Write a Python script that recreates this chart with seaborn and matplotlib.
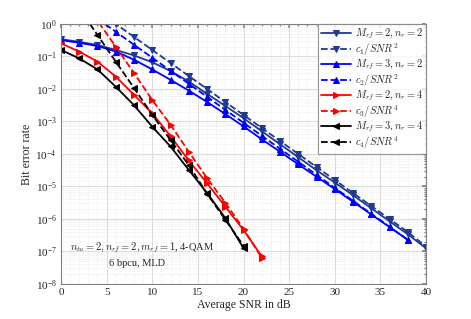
import numpy as np
import pandas as pd
import matplotlib
matplotlib.use("Agg")
import matplotlib.pyplot as plt
import seaborn as sns
from matplotlib.ticker import LogLocator, NullFormatter, MultipleLocator

snr_a = [0, 2, 4, 6, 8, 10, 12, 14, 16, 18, 20, 22, 24, 26, 28, 30, 32, 34, 36, 38, 40]
log_m2n2 = [-0.47, -0.55, -0.65, -0.8, -0.97, -1.18, -1.45, -1.77, -2.15, -2.52, -2.9,
            -3.3, -3.7, -4.1, -4.5, -4.88, -5.27, -5.67, -6.07, -6.47, -6.9]
snr_c1 = [4, 6, 8, 10, 12, 14, 16, 18, 20, 22, 24, 26, 28, 30, 32, 34, 36, 38, 40]
log_c1 = [0.4, 0.0, -0.4, -0.8, -1.2, -1.6, -2.0, -2.4, -2.8, -3.2, -3.6, -4.0, -4.4,
          -4.8, -5.2, -5.6, -6.0, -6.4, -6.85]
snr_b = [0, 2, 4, 6, 8, 10, 12, 14, 16, 18, 20, 22, 24, 26, 28, 30, 32, 34, 36, 38]
log_m3n2 = [-0.5, -0.58, -0.68, -0.85, -1.1, -1.4, -1.72, -2.05, -2.4, -2.77, -3.15,
            -3.55, -3.93, -4.32, -4.7, -5.08, -5.47, -5.86, -6.25, -6.64]
snr_c2 = [4, 6, 8, 10, 12, 14, 16, 18, 20, 22, 24, 26, 28, 30, 32, 34, 36, 38]
log_c2 = [0.16, -0.24, -0.64, -1.04, -1.44, -1.84, -2.24, -2.64, -3.04, -3.44, -3.84,
          -4.24, -4.64, -5.04, -5.44, -5.84, -6.24, -6.64]
snr_r = [0, 2, 4, 6, 8, 10, 12, 14, 16, 18, 20, 22]
log_m2n4 = [-0.6, -0.85, -1.16, -1.62, -2.18, -2.75, -3.45, -4.2, -4.9, -5.62, -6.34, -7.15]
snr_c3 = [2, 4, 6, 8, 10, 12, 14, 16, 18, 20, 22]
log_c3 = [0.9, 0.1, -0.7, -1.51, -2.34, -3.1, -3.93, -4.74, -5.5, -6.3, -7.2]
snr_k = [0, 2, 4, 6, 8, 10, 12, 14, 16, 18, 20]
log_m3n4 = [-0.8, -1.06, -1.4, -1.93, -2.5, -3.16, -3.77, -4.49, -5.2, -5.97, -6.9]
snr_c4 = [2, 4, 6, 8, 10, 12, 14, 16, 18, 20]
log_c4 = [0.48, -0.34, -1.16, -1.97, -2.8, -3.57, -4.34, -5.22, -6.02, -6.82]

labels = [r"$M_{rf}=2, n_r=2$", r"$c_1/SNR^2$", r"$M_{rf}=3, n_r=2$", r"$c_2/SNR^2$",
          r"$M_{rf}=2, n_r=4$", r"$c_3/SNR^4$", r"$M_{rf}=3, n_r=4$", r"$c_4/SNR^4$"]
series = [(snr_a, log_m2n2), (snr_c1, log_c1), (snr_b, log_m3n2), (snr_c2, log_c2),
          (snr_r, log_m2n4), (snr_c3, log_c3), (snr_k, log_m3n4), (snr_c4, log_c4)]
colors = ["#1f3a93", "#1f3a93", "#0000ff", "#0000ff", "#ff0000", "#ff0000", "#000000", "#000000"]
markers = ["v", "v", "^", "^", ">", ">", "<", "<"]
dashes = ["-", "--", "-", "--", "-", "--", "-", "--"]

sns.set_theme(style="white")
plt.rcParams["font.family"] = ["Liberation Serif", "DejaVu Serif"]
plt.rcParams["mathtext.fontset"] = "cm"

fig = plt.figure(figsize=(4.71, 3.19), dpi=100)
ax = fig.add_axes([0.1295, 0.1097, 0.775, 0.8153])

for (x, ly), lab, c, m, ls in zip(series, labels, colors, markers, dashes):
    df = pd.DataFrame({"snr": x, "ber": np.power(10.0, ly)})
    sns.lineplot(data=df, x="snr", y="ber", ax=ax, color=c, marker=m, linestyle=ls,
                 linewidth=1.3, markersize=5, markeredgecolor=c, markerfacecolor=c,
                 label=lab, sort=False)

ax.set_yscale("log")
ax.set_xlim(0, 40)
ax.set_ylim(1e-8, 1)
ax.xaxis.set_major_locator(MultipleLocator(5))
ax.xaxis.set_minor_locator(MultipleLocator(1))
ax.yaxis.set_major_locator(LogLocator(base=10, numticks=20))
ax.yaxis.set_minor_locator(LogLocator(base=10, subs=np.arange(2, 10), numticks=20))
ax.yaxis.set_minor_formatter(NullFormatter())
ax.grid(True, which="major", color="#dcdcdc", linewidth=0.8)
ax.grid(True, which="minor", color="#e0e0e0", linewidth=0.5, linestyle=":")
ax.set_axisbelow(True)
for s in ax.spines.values():
    s.set_color("#808080")
    s.set_linewidth(0.8)
ax.tick_params(axis="both", which="major", labelsize=8, direction="in", length=3,
               color="#808080", pad=3)
ax.tick_params(axis="both", which="minor", direction="in", length=1.5, color="#808080")
ax.tick_params(axis="y", which="both", right=True)
ax.tick_params(axis="x", which="both", top=True)
ax.set_xlabel("Average SNR in dB", fontsize=8.5, labelpad=1)
ax.set_ylabel("Bit error rate", fontsize=8.5, labelpad=2)

ax.text(1, 1.3e-7, r"$n_{tu}=2, n_{rf}=2, m_{rf}=1$, 4-QAM", fontsize=7.5, va="center", ha="left")
ax.text(8.3, 4.3e-8, "6 bpcu, MLD", fontsize=7.5, va="center", ha="center")

leg = ax.legend(loc="upper right", fontsize=7.5, frameon=True, fancybox=False,
                borderaxespad=0, labelspacing=0.0, handlelength=2.8, handletextpad=0.4,
                borderpad=0.3)
leg.get_frame().set_edgecolor("#808080")
leg.get_frame().set_linewidth(0.8)

fig.savefig("out.png", dpi=100)
